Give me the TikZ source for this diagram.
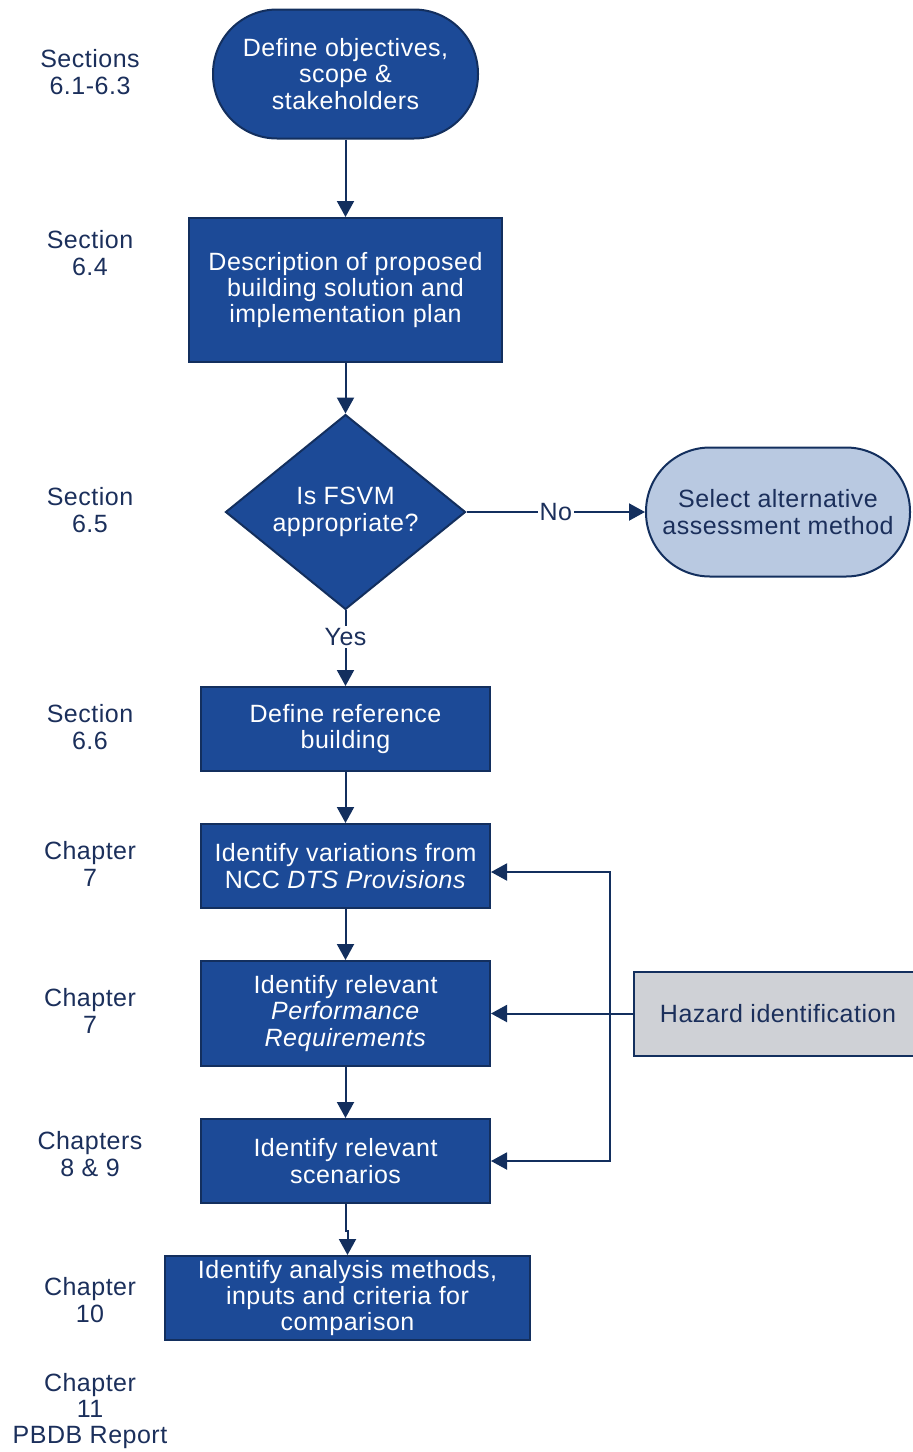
\documentclass[tikz,border=0pt]{standalone}
\usepackage{fontspec}
\setmainfont{Liberation Sans}[LetterSpace=2]
\usetikzlibrary{shapes.geometric,arrows.meta}

\definecolor{boxblue}{HTML}{1C4A97}
\definecolor{edgenavy}{HTML}{132F5E}
\definecolor{paleblue}{HTML}{B9C9E1}
\definecolor{hazgrey}{HTML}{CFD1D6}
\definecolor{labnavy}{HTML}{1B2F5B}

\tikzset{
    flowtext/.style={font=\fontsize{12.5}{13.2}\selectfont, align=center, inner sep=0pt},
    stepbox/.style={flowtext, draw=edgenavy, fill=boxblue, line width=1pt, text=white},
    startbox/.style={stepbox, rounded corners=32pt, minimum width=132.5pt, minimum height=64.5pt},
    altbox/.style={startbox, fill=paleblue, text=labnavy, minimum width=132pt},
    choice/.style={stepbox, diamond, minimum width=120pt, minimum height=96pt},
    hazbox/.style={flowtext, draw=edgenavy, fill=hazgrey, text=labnavy, line width=1pt, minimum width=144pt, minimum height=42pt},
    sidelabel/.style={flowtext, text=labnavy},
    answer/.style={flowtext, text=labnavy, fill=white, inner sep=1pt},
    flow/.style={draw=edgenavy, line width=1pt, -{Triangle[length=8pt,width=8.5pt]}}
}

\begin{document}
\begin{tikzpicture}[x=0.5pt, y=-0.5pt]
    \useasboundingbox (0,0) rectangle (912,1452);

    \node[startbox] (obj) at (345.5,74) {Define objectives,\\ scope \&\\ stakeholders};
    \node[stepbox, minimum width=156.5pt, minimum height=72pt] (desc) at (345.5,290) {Description of proposed\\ building solution and\\ implementation plan};
    \node[choice] (fsvm) at (345.5,512) {Is FSVM\\ appropriate?};
    \node[altbox] (alt) at (778,512) {Select alternative\\ assessment method};
    \node[stepbox, minimum width=144.5pt, minimum height=42pt] (ref) at (345.5,729) {Define reference\\ building};
    \node[stepbox, minimum width=144.5pt, minimum height=42pt] (var) at (345.5,866) {Identify variations from\\ NCC \textit{DTS Provisions}};
    \node[stepbox, minimum width=144.5pt, minimum height=52.5pt] (perf) at (345.5,1013.5) {Identify relevant\\ \textit{Performance}\\ \textit{Requirements}};
    \node[stepbox, minimum width=144.5pt, minimum height=42pt] (scen) at (345.5,1161) {Identify relevant\\ scenarios};
    \node[stepbox, minimum width=182.5pt, minimum height=42pt] (anal) at (347.5,1298) {Identify analysis methods,\\ inputs and criteria for\\ comparison};
    \node[hazbox] (haz) at (778,1013.5) {Hazard identification};

    \node[sidelabel] (lab1) at (90,72) {Sections\\ 6.1-6.3};
    \node[sidelabel] (lab2) at (90,253) {Section\\ 6.4};
    \node[sidelabel] (lab3) at (90,510) {Section\\ 6.5};
    \node[sidelabel] (lab4) at (90,727) {Section\\ 6.6};
    \node[sidelabel] (lab5) at (90,864) {Chapter\\ 7};
    \node[sidelabel] (lab6) at (90,1011) {Chapter\\ 7};
    \node[sidelabel] (lab7) at (90,1154) {Chapters\\ 8 \& 9};
    \node[sidelabel] (lab8) at (90,1300) {Chapter\\ 10};
    \node[sidelabel] (lab9) at (90,1411) {Chapter\\ 11\\ PBDB Report};

    \draw[flow] (obj) -- (desc);
    \draw[flow] (desc) -- (fsvm);
    \draw[flow] (fsvm) -- node[answer] {No} (alt);
    \draw[flow] (fsvm) -- node[answer, pos=0.35] {Yes} (ref);
    \draw[flow] (ref) -- (var);
    \draw[flow] (var) -- (perf);
    \draw[flow] (perf) -- (scen);
    \draw[flow] (scen.south) -- ++(0,27) -| (anal.north);

    \coordinate (bus) at (610,1013.5);
    \draw[flow] (haz) -- (perf);
    \draw[flow] (bus) |- ([yshift=-3pt]var.east);
    \draw[flow] (bus) |- (scen.east);
\end{tikzpicture}
\end{document}
